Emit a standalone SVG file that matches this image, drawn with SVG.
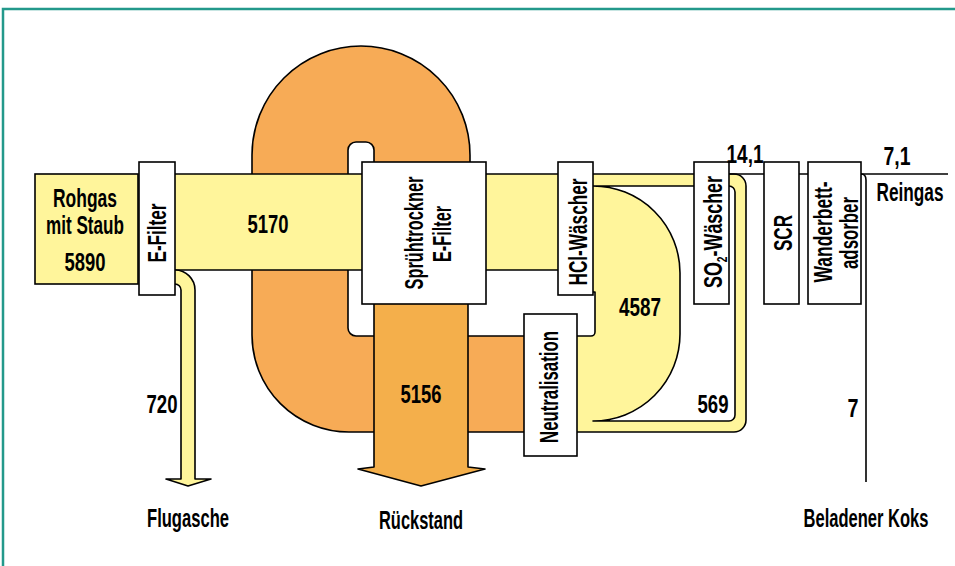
<svg xmlns="http://www.w3.org/2000/svg" width="955" height="566" viewBox="0 0 955 566">
<style>
.fl{stroke:#000;stroke-width:1.6;stroke-linejoin:round}
.y{fill:#FFF59B}
.o{fill:#F7AB56}
.a{fill:#F4AF4B}
.w{fill:#fff}
.box{fill:#fff;stroke:#000;stroke-width:1.6}
.ln{fill:none;stroke:#000;stroke-width:1.6}
text{font-family:"Liberation Sans Narrow","Liberation Sans",Arial,sans-serif;font-weight:bold;font-size:26px;fill:#000;text-anchor:middle}
</style>
<rect width="955" height="566" fill="#fff"/>
<path d="M3,566 L3,9 L955,9" fill="none" stroke="#23998B" stroke-width="2.5"/>
<g id="connectors">
  <path class="fl o" d="M470,170 L470,155 A109,109 0 0 0 252,155 L252,335 A97,97 0 0 0 349,432 L530,432 L530,336 L356,336 A8,8 0 0 1 348,328 L348,150 A8,8 0 0 1 356,142 L366,142 A8,8 0 0 1 374,150 L374,170 Z"/>
  <rect class="fl y" x="160" y="174" width="210" height="96"/>
  <path class="fl y" d="M160,270 L175,270 A20,20 0 0 1 195,290 L195,479 L211,479 L188,486 L166,479 L181,479 L181,290 A6,6 0 0 0 175,284 L160,284 Z"/>
  <rect class="fl y" x="480" y="174" width="85" height="96"/>
  <path class="fl y" d="M575,174 L734,174 A12,12 0 0 1 746,186 L746,420 A12,12 0 0 1 734,432 L570,432 L570,336 L591,336 A4,4 0 0 0 595,332 L595,292 L575,292 Z"/>
  <path class="fl w" d="M593,186 L729,186 A6,6 0 0 1 735,192 L735,415 A6,6 0 0 1 729,421 L593,421 A87,87 0 0 0 680,334 L680,273 A87,87 0 0 0 593,186 Z"/>
  <path class="fl a" d="M374,300 L374,467 L358,469 L421,486 L485,469 L468,467 L468,300 Z"/>
  <path class="ln" d="M729,174 L764,174 M799,174 L808,174 M861,174 L948,174"/>
  <path class="ln" d="M861,174 Q866,174 866,180 L866,482"/>
</g>
<g id="rohgas">
  <rect x="35" y="174" width="103" height="110" fill="#FFF59B" stroke="#000" stroke-width="1.6"/>
  <text x="85" y="207" textLength="64" lengthAdjust="spacingAndGlyphs">Rohgas</text>
  <text x="85" y="234" textLength="78" lengthAdjust="spacingAndGlyphs">mit Staub</text>
  <text x="85" y="271" textLength="41" lengthAdjust="spacingAndGlyphs">5890</text>
</g>
<g id="efilter">
  <rect class="box" x="139" y="162" width="36" height="133"/>
  <text transform="translate(166,233) rotate(-90)" textLength="59" lengthAdjust="spacingAndGlyphs">E-Filter</text>
</g>
<g id="spruehtrockner">
  <rect class="box" x="362" y="162" width="124" height="142"/>
  <text transform="translate(423,233) rotate(-90)" textLength="113" lengthAdjust="spacingAndGlyphs">Sprühtrockner</text>
  <text transform="translate(451,234) rotate(-90)" textLength="56" lengthAdjust="spacingAndGlyphs">E-Filter</text>
</g>
<g id="hcl">
  <rect class="box" x="558" y="162" width="35" height="133"/>
  <text transform="translate(587,232) rotate(-90)" textLength="107" lengthAdjust="spacingAndGlyphs">HCl-Wäscher</text>
</g>
<g id="neutralisation">
  <rect class="box" x="524" y="314" width="53" height="142"/>
  <text transform="translate(558,387) rotate(-90)" textLength="112" lengthAdjust="spacingAndGlyphs">Neutralisation</text>
</g>
<g id="so2">
  <rect class="box" x="694" y="162" width="35" height="142"/>
  <text transform="translate(722,232) rotate(-90)" textLength="112" lengthAdjust="spacingAndGlyphs">SO<tspan font-size="15" dy="5">2</tspan><tspan dy="-5">-Wäscher</tspan></text>
</g>
<g id="scr">
  <rect class="box" x="764" y="162" width="35" height="142"/>
  <text transform="translate(792,233) rotate(-90)" textLength="36" lengthAdjust="spacingAndGlyphs">SCR</text>
</g>
<g id="wanderbett">
  <rect class="box" x="808" y="162" width="53" height="142"/>
  <text transform="translate(832,232) rotate(-90)" textLength="101" lengthAdjust="spacingAndGlyphs">Wanderbett-</text>
  <text transform="translate(858,233) rotate(-90)" textLength="72" lengthAdjust="spacingAndGlyphs">adsorber</text>
</g>
<g id="labels">
  <text x="268" y="233" textLength="41" lengthAdjust="spacingAndGlyphs">5170</text>
  <text x="162" y="413" textLength="31" lengthAdjust="spacingAndGlyphs">720</text>
  <text x="188" y="527" textLength="82" lengthAdjust="spacingAndGlyphs">Flugasche</text>
  <text x="421" y="403" textLength="41" lengthAdjust="spacingAndGlyphs">5156</text>
  <text x="421" y="529" textLength="84" lengthAdjust="spacingAndGlyphs">Rückstand</text>
  <text x="640" y="316" textLength="42" lengthAdjust="spacingAndGlyphs">4587</text>
  <text x="713" y="413" textLength="31" lengthAdjust="spacingAndGlyphs">569</text>
  <text x="853" y="417" textLength="11" lengthAdjust="spacingAndGlyphs">7</text>
  <text x="745" y="163" textLength="37" lengthAdjust="spacingAndGlyphs">14,1</text>
  <text x="897" y="165" textLength="27" lengthAdjust="spacingAndGlyphs">7,1</text>
  <text transform="translate(910,201) scale(0.663,1)">Reingas</text>
  <text transform="translate(866,527) scale(0.636,1)">Beladener Koks</text>
</g>
</svg>
